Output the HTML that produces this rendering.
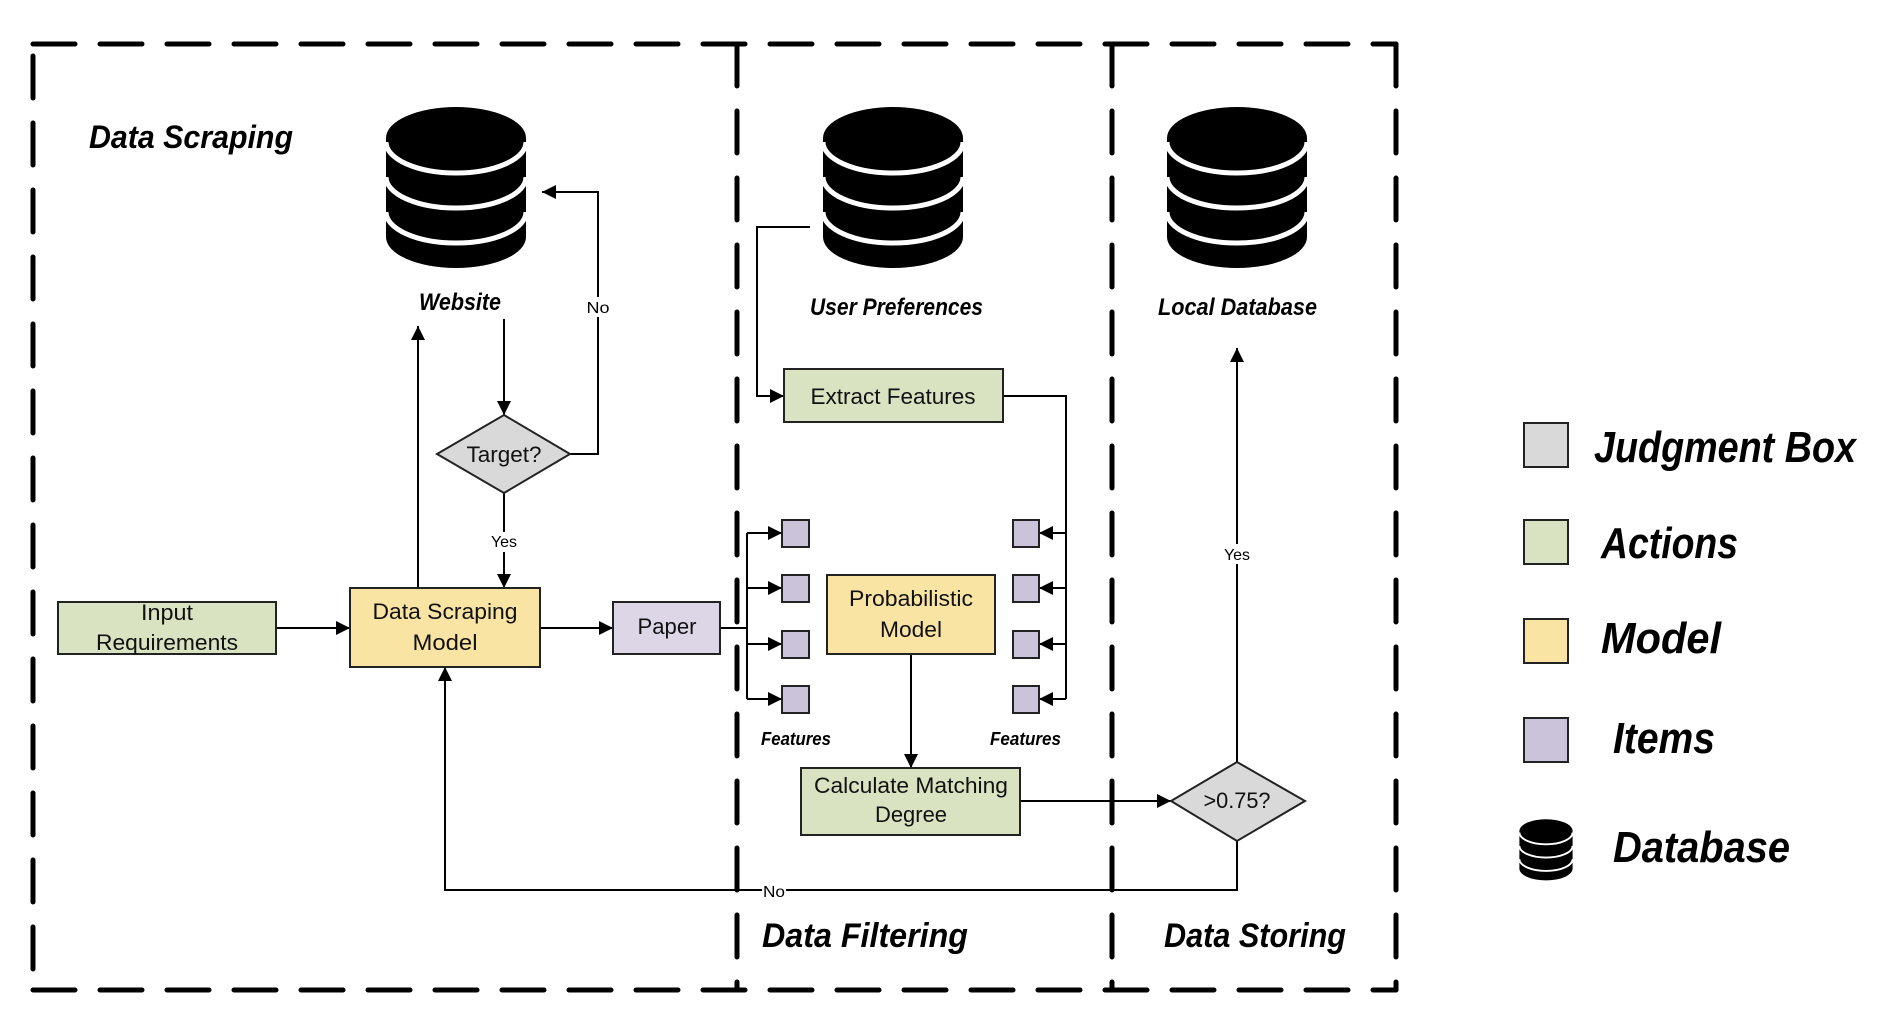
<!DOCTYPE html>
<html><head><meta charset="utf-8"><style>html,body{margin:0;padding:0;background:#fff}svg{display:block}</style></head>
<body>
<svg width="1882" height="1030" viewBox="0 0 1882 1030" xmlns="http://www.w3.org/2000/svg" font-family="'Liberation Sans Narrow','Liberation Sans',sans-serif">
<defs>
<marker id="a" viewBox="0 0 10 10" refX="10" refY="5" markerWidth="14" markerHeight="14" markerUnits="userSpaceOnUse" orient="auto"><path d="M0,0L10,5L0,10z" fill="#000"/></marker>
<g id="db">
<rect x="-70" y="0" width="140" height="99" fill="#000"/>
<ellipse cx="0" cy="0" rx="70" ry="31" fill="#000"/>
<ellipse cx="0" cy="99" rx="70" ry="31" fill="#000"/>
<path d="M-70,4 A70,31 0 0 0 70,4 M-70,39 A70,31 0 0 0 70,39 M-70,74 A70,31 0 0 0 70,74" fill="none" stroke="#fff" stroke-width="5"/>
</g>
</defs>

<!-- dashed frames -->
<g stroke="#000" stroke-width="5" fill="none" stroke-dasharray="42 25" stroke-linecap="round">
<path d="M33,44 H1396"/>
<path d="M33,990 H1396"/>
<path d="M33,56 V990"/>
<path d="M1396,44 V990"/>
<path d="M737,44 V990"/>
<path d="M1112,44 V990"/>
</g>

<!-- databases -->
<use href="#db" x="456" y="138"/>
<use href="#db" x="893" y="138"/>
<use href="#db" x="1237" y="138"/>

<!-- headings -->
<g font-weight="bold" font-style="italic" fill="#000">
<text x="89" y="148" font-size="32" textLength="204" lengthAdjust="spacingAndGlyphs">Data Scraping</text>
<text x="419" y="310" font-size="24" textLength="82" lengthAdjust="spacingAndGlyphs">Website</text>
<text x="810" y="315" font-size="24" textLength="173" lengthAdjust="spacingAndGlyphs">User Preferences</text>
<text x="1158" y="315" font-size="24" textLength="159" lengthAdjust="spacingAndGlyphs">Local Database</text>
<text x="762" y="947" font-size="34" textLength="206" lengthAdjust="spacingAndGlyphs">Data Filtering</text>
<text x="1164" y="947" font-size="34" textLength="182" lengthAdjust="spacingAndGlyphs">Data Storing</text>
<text x="761" y="745" font-size="18" textLength="70" lengthAdjust="spacingAndGlyphs">Features</text>
<text x="990" y="745" font-size="18" textLength="71" lengthAdjust="spacingAndGlyphs">Features</text>
</g>

<!-- connectors -->
<g stroke="#000" stroke-width="2" fill="none">
<path d="M504,319 V415" marker-end="url(#a)"/>
<path d="M570,454 H598 V192 H542" marker-end="url(#a)"/>
<path d="M504,493 V588" marker-end="url(#a)"/>
<path d="M418,588 V326" marker-end="url(#a)"/>
<path d="M276,628 H350" marker-end="url(#a)"/>
<path d="M540,628 H613" marker-end="url(#a)"/>
<path d="M720,628 H747"/>
<path d="M747,533 V699"/>
<path d="M747,533 H782" marker-end="url(#a)"/>
<path d="M747,588 H782" marker-end="url(#a)"/>
<path d="M747,644 H782" marker-end="url(#a)"/>
<path d="M747,699 H782" marker-end="url(#a)"/>
<path d="M810,227 H757 V396 H784" marker-end="url(#a)"/>
<path d="M1003,396 H1066 V699"/>
<path d="M1066,533 H1039" marker-end="url(#a)"/>
<path d="M1066,588 H1039" marker-end="url(#a)"/>
<path d="M1066,644 H1039" marker-end="url(#a)"/>
<path d="M1066,699 H1039" marker-end="url(#a)"/>
<path d="M911,654 V768" marker-end="url(#a)"/>
<path d="M1020,801 H1171" marker-end="url(#a)"/>
<path d="M1237,762 V348" marker-end="url(#a)"/>
<path d="M1237,841 V890 H445 V667" marker-end="url(#a)"/>
</g>

<!-- connector labels -->
<g font-size="16" fill="#000" text-anchor="middle">
<rect x="588" y="297" width="20" height="20" fill="#fff"/>
<text x="598" y="313" textLength="23" lengthAdjust="spacingAndGlyphs">No</text>
<rect x="490" y="532" width="28" height="20" fill="#fff"/>
<text x="504" y="547" textLength="26" lengthAdjust="spacingAndGlyphs">Yes</text>
<rect x="1222" y="544" width="30" height="20" fill="#fff"/>
<text x="1237" y="560" textLength="26" lengthAdjust="spacingAndGlyphs">Yes</text>
<rect x="762" y="881" width="24" height="20" fill="#fff"/>
<text x="774" y="897" textLength="22" lengthAdjust="spacingAndGlyphs">No</text>
</g>

<!-- nodes -->
<g stroke="#222" stroke-width="2">
<rect x="58" y="602" width="218" height="52" fill="#d9e3c2"/>
<rect x="350" y="588" width="190" height="79" fill="#fae4a4"/>
<rect x="613" y="602" width="107" height="52" fill="#dcd6e6"/>
<rect x="784" y="369" width="219" height="53" fill="#d9e3c2"/>
<rect x="827" y="575" width="168" height="79" fill="#fae4a4"/>
<rect x="801" y="768" width="219" height="67" fill="#d9e3c2"/>
<path d="M504,415 L570,454 L504,493 L437,454 Z" fill="#d9d9d9"/>
<path d="M1237,762 L1305,801 L1237,841 L1171,801 Z" fill="#d9d9d9"/>
<rect x="782" y="520" width="27" height="27" fill="#cbc3da"/>
<rect x="782" y="575" width="27" height="27" fill="#cbc3da"/>
<rect x="782" y="631" width="27" height="27" fill="#cbc3da"/>
<rect x="782" y="686" width="27" height="27" fill="#cbc3da"/>
<rect x="1013" y="520" width="26" height="27" fill="#cbc3da"/>
<rect x="1013" y="575" width="26" height="27" fill="#cbc3da"/>
<rect x="1013" y="631" width="26" height="27" fill="#cbc3da"/>
<rect x="1013" y="686" width="26" height="27" fill="#cbc3da"/>
</g>

<g font-size="22" fill="#111" text-anchor="middle">
<text x="167" y="620" textLength="52" lengthAdjust="spacingAndGlyphs">Input</text>
<text x="167" y="650" textLength="142" lengthAdjust="spacingAndGlyphs">Requirements</text>
<text x="445" y="619" textLength="145" lengthAdjust="spacingAndGlyphs">Data  Scraping</text>
<text x="445" y="650" textLength="65" lengthAdjust="spacingAndGlyphs">Model</text>
<text x="667" y="634" textLength="59" lengthAdjust="spacingAndGlyphs">Paper</text>
<text x="893" y="404" textLength="165" lengthAdjust="spacingAndGlyphs">Extract Features</text>
<text x="911" y="606" textLength="124" lengthAdjust="spacingAndGlyphs">Probabilistic</text>
<text x="911" y="637" textLength="62" lengthAdjust="spacingAndGlyphs">Model</text>
<text x="911" y="793" textLength="194" lengthAdjust="spacingAndGlyphs">Calculate Matching</text>
<text x="911" y="822" textLength="72" lengthAdjust="spacingAndGlyphs">Degree</text>
<text x="504" y="462" textLength="75" lengthAdjust="spacingAndGlyphs">Target?</text>
<text x="1237" y="808" textLength="67" lengthAdjust="spacingAndGlyphs">&gt;0.75?</text>
</g>

<!-- legend -->
<g stroke="#222" stroke-width="2">
<rect x="1524" y="423" width="44" height="44" fill="#d9d9d9"/>
<rect x="1524" y="520" width="44" height="44" fill="#d9e3c2"/>
<rect x="1524" y="619" width="44" height="44" fill="#fae4a4"/>
<rect x="1524" y="718" width="44" height="44" fill="#cbc3da"/>
</g>
<g transform="translate(1546,831) scale(0.38)">
<use href="#db"/>
</g>
<g font-weight="bold" font-style="italic" font-size="44" fill="#000">
<text x="1594" y="462" textLength="262" lengthAdjust="spacingAndGlyphs">Judgment Box</text>
<text x="1601" y="558" textLength="137" lengthAdjust="spacingAndGlyphs">Actions</text>
<text x="1601" y="653" textLength="120" lengthAdjust="spacingAndGlyphs">Model</text>
<text x="1613" y="753" textLength="102" lengthAdjust="spacingAndGlyphs">Items</text>
<text x="1613" y="862" textLength="177" lengthAdjust="spacingAndGlyphs">Database</text>
</g>
</svg>
</body></html>
